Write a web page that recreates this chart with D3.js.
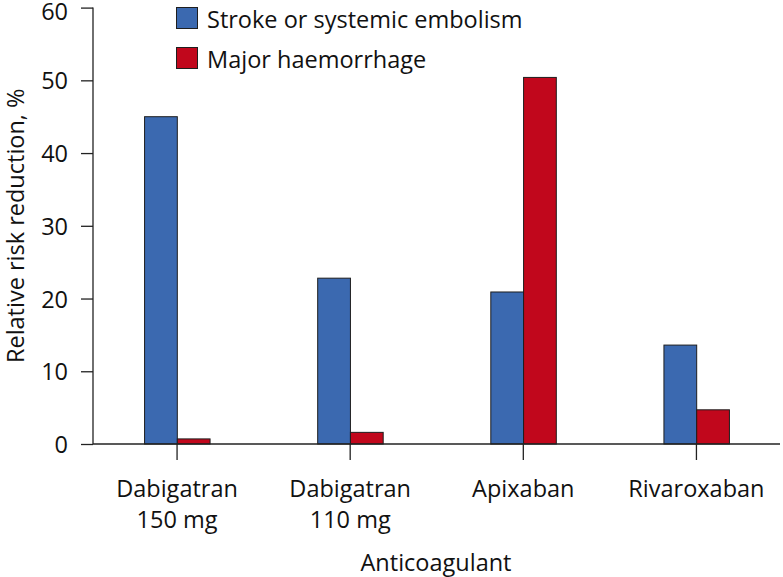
<!DOCTYPE html>
<html>
<head>
<meta charset="utf-8">
<script src="https://cdn.jsdelivr.net/npm/d3@7/dist/d3.min.js"></script>
<style>
  html, body { margin: 0; padding: 0; background: #fff; }
  svg { display: block; }
  text { font-family: "Open Sans", sans-serif; fill: #111; }
</style>
</head>
<body>
<svg id="chart" width="783" height="577"></svg>
<script>
const categories = [["Dabigatran", "150 mg"], ["Dabigatran", "110 mg"], ["Apixaban"], ["Rivaroxaban"]];
const seriesNames = ["Stroke or systemic embolism", "Major haemorrhage"];
const strokeValues = [45, 22.8, 20.9, 13.6];
const bleedValues = [0.7, 1.6, 50.4, 4.7];
const yTicks = [0, 10, 20, 30, 40, 50, 60];
const colors = ["#3b69b0", "#c1071c"];

const svg = d3.select("#chart");
const x0 = 93, x1 = 780, yTop = 7.6, yBot = 444;
const fs = 23.5;

const catKeys = categories.map((c, i) => i);
const x = d3.scaleBand().domain(catKeys).range([90.5, 783]).padding(0);
const xs = d3.scaleBand().domain(seriesNames).range([-32.5, 33]).padding(0);
const y = d3.scaleLinear().domain([0, 60]).range([yBot, yTop]);

const data = catKeys.map(i => [
  { s: seriesNames[0], v: strokeValues[i], c: colors[0] },
  { s: seriesNames[1], v: bleedValues[i], c: colors[1] }
]);

// bars
const g = svg.append("g");
catKeys.forEach(i => {
  const cx = x(i) + x.bandwidth() / 2;
  g.selectAll(null).data(data[i]).enter().append("rect")
    .attr("x", d => cx + xs(d.s))
    .attr("y", d => y(d.v))
    .attr("width", xs.bandwidth())
    .attr("height", d => y(0) - y(d.v))
    .attr("fill", d => d.c)
    .attr("stroke", "#1e1e1e")
    .attr("stroke-width", 1);
});

// y axis
const yAxis = d3.axisLeft(y).tickValues(yTicks).tickSize(12).tickPadding(13);
const ya = svg.append("g").attr("transform", `translate(${x0},0)`).call(yAxis);
ya.select(".domain").attr("d", `M0,${yTop}V${yBot}`).attr("stroke", "#222").attr("stroke-width", 1.3);
ya.selectAll(".tick line").attr("stroke", "#222").attr("stroke-width", 1.3);
ya.selectAll(".tick text").attr("font-size", fs).attr("font-family", "Open Sans, sans-serif").attr("fill", "#111")
  .attr("dy", d => d === 60 ? "0.5em" : "0.36em");

// x axis
const xa = svg.append("g").attr("transform", `translate(0,${yBot})`);
xa.append("line").attr("x1", x0).attr("x2", x1).attr("y1", 0).attr("y2", 0)
  .attr("stroke", "#222").attr("stroke-width", 1.3);
catKeys.forEach(i => {
  const cx = x(i) + x.bandwidth() / 2;
  xa.append("line").attr("x1", cx).attr("x2", cx).attr("y1", 0).attr("y2", 16)
    .attr("stroke", "#222").attr("stroke-width", 1.3);
  const t = xa.append("text").attr("text-anchor", "middle").attr("font-size", fs);
  categories[i].forEach((line, k) => {
    t.append("tspan").attr("x", cx).attr("y", 53 + k * 31).text(line);
  });
});

// axis titles
svg.append("text").attr("x", 436).attr("y", 571).attr("text-anchor", "middle")
  .attr("font-size", fs).text("Anticoagulant");
svg.append("text").attr("transform", `translate(24,${(yTop + yBot) / 2}) rotate(-90)`)
  .attr("text-anchor", "middle").attr("font-size", fs).text("Relative risk reduction, %");

// legend
const lg = svg.append("g");
seriesNames.forEach((s, k) => {
  lg.append("rect").attr("x", 176.5).attr("y", 7.5 + k * 40).attr("width", 21).attr("height", 21)
    .attr("fill", colors[k]).attr("stroke", "#1e1e1e").attr("stroke-width", 1);
  lg.append("text").attr("x", 207).attr("y", 28 + k * 40).attr("font-size", fs).text(s);
});
</script>
</body>
</html>
